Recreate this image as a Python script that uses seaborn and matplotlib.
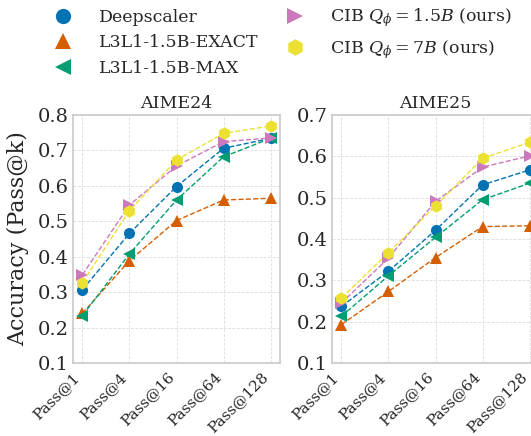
import numpy as np
import pandas as pd
import matplotlib
matplotlib.use("Agg")
import matplotlib.pyplot as plt
from matplotlib.lines import Line2D
import seaborn as sns

# Data
ks = ["Pass@1", "Pass@4", "Pass@16", "Pass@64", "Pass@128"]
methods = ["Deepscaler", "L3L1-1.5B-EXACT", "L3L1-1.5B-MAX",
           r"CIB $Q_\phi=1.5B$ (ours)", r"CIB $Q_\phi=7B$ (ours)"]

aime24_deepscaler = [0.307, 0.466, 0.598, 0.706, 0.734]
aime24_exact = [0.240, 0.389, 0.502, 0.560, 0.565]
aime24_max = [0.234, 0.408, 0.560, 0.682, 0.734]
aime24_cib15 = [0.349, 0.546, 0.656, 0.725, 0.735]
aime24_cib7 = [0.327, 0.530, 0.673, 0.748, 0.769]

aime25_deepscaler = [0.237, 0.322, 0.421, 0.531, 0.567]
aime25_exact = [0.193, 0.273, 0.355, 0.430, 0.432]
aime25_max = [0.213, 0.311, 0.404, 0.495, 0.535]
aime25_cib15 = [0.245, 0.354, 0.491, 0.574, 0.601]
aime25_cib7 = [0.257, 0.367, 0.480, 0.595, 0.634]

sns.set_theme(style="whitegrid")
plt.rcParams['font.family'] = ['DejaVu Serif']
plt.rcParams['mathtext.fontset'] = 'dejavuserif'

pal = sns.color_palette("colorblind")
colors = [pal[0], pal[3], pal[2], pal[4], pal[8]]
markers = ['o', '^', '<', '>', 'h']
sizes = [8, 8, 8, 8, 9]

panels = [
    ("AIME24", [aime24_deepscaler, aime24_exact, aime24_max, aime24_cib15, aime24_cib7], (0.1, 0.8)),
    ("AIME25", [aime25_deepscaler, aime25_exact, aime25_max, aime25_cib15, aime25_cib7], (0.1, 0.7)),
]

fig = plt.figure(figsize=(5.31, 4.36), dpi=100)
W, H = 531, 436
ax_w = 207
lefts = [73, 332]
axes = [fig.add_axes([l / W, (H - 363) / H, ax_w / W, (363 - 115) / H]) for l in lefts]

for ax, (title, series, ylim) in zip(axes, panels):
    for name, vals, c, m, s in zip(methods, series, colors, markers, sizes):
        df = pd.DataFrame({"k": np.arange(len(ks)), "acc": vals})
        sns.lineplot(data=df, x="k", y="acc", ax=ax, color=c, marker=m,
                     markersize=s, markeredgewidth=0, linestyle='--',
                     linewidth=1.0, legend=False)
    ax.set_xlim(-0.2, len(ks) - 0.8)
    ax.set_ylim(*ylim)
    ax.set_yticks(np.round(np.arange(ylim[0], ylim[1] + 0.001, 0.1), 1))
    ax.set_xticks(np.arange(len(ks)))
    ax.set_xticklabels(ks, rotation=45, ha='right', fontsize=11)
    ax.tick_params(axis='y', labelsize=14, pad=3, length=0)
    ax.tick_params(axis='x', pad=5, length=0)
    ax.set_title(title, fontsize=12.5, pad=5)
    ax.set_xlabel("")
    ax.set_ylabel("")
    ax.grid(True, linestyle='--', linewidth=0.6, color='#dddddd')
    for sp in ax.spines.values():
        sp.set_color('#cccccc')

axes[0].set_ylabel("Accuracy (Pass@k)", fontsize=16, labelpad=6)

handles = [Line2D([], [], color=c, marker=m, linestyle='None', markersize=s + 3,
                  markeredgewidth=0)
           for c, m, s in zip(colors, markers, sizes)]
fig.legend(handles, methods,
           ncol=2, loc='upper left', bbox_to_anchor=(37 / W, 1.005),
           frameon=False, fontsize=12.5, handletextpad=1.05, handlelength=2.0,
           columnspacing=1.1, labelspacing=0.5, borderaxespad=0.1)

fig.savefig("out.png", dpi=100)
